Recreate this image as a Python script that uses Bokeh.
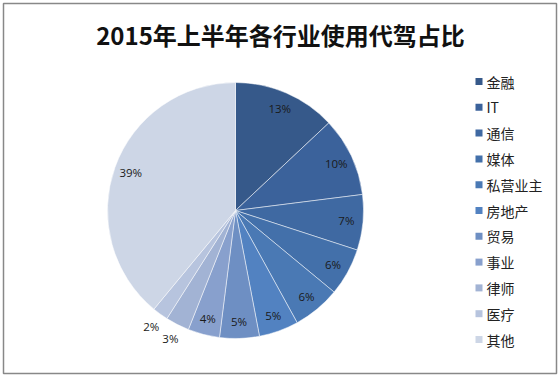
import math
from bokeh.plotting import figure
from bokeh.models import Range1d, ColumnDataSource
from bokeh.core.properties import value
from bokeh.embed import file_html
from bokeh.resources import INLINE

title_text = "2015年上半年各行业使用代驾占比"
categories = ["金融", "IT", "通信", "媒体", "私营业主", "房地产", "贸易", "事业", "律师", "医疗", "其他"]
shares = [13, 10, 7, 6, 6, 5, 5, 4, 3, 2, 39]
colors = ["#36598a", "#3b629b", "#3f69a2", "#4370aa", "#4a79b4", "#5282c1",
          "#6e8fc3", "#88a0cd", "#a2b3d4", "#b7c4de", "#cdd6e6"]

W, H = 559, 377
p = figure(width=W, height=H, output_backend="svg", toolbar_location=None,
           x_range=Range1d(0, W), y_range=Range1d(0, H), min_border=0)
p.axis.visible = False
p.grid.visible = False
p.outline_line_color = None
p.background_fill_color = "white"
p.border_fill_color = "white"

def Y(y):
    return H - y

# frame
p.quad(left=[3], right=[556], bottom=[Y(373)], top=[Y(3)], fill_color=None,
       line_color="#888888", line_width=1.5)

cx, cy, R = 235, 210, 128
total = sum(shares)
starts, ends, lx, ly, labels = [], [], [], [], []
cum = 0.0
for s in shares:
    a0 = cum / total
    a1 = (cum + s) / total
    starts.append(math.pi / 2 - a0 * 2 * math.pi)
    ends.append(math.pi / 2 - a1 * 2 * math.pi)
    mid = (a0 + a1) / 2 * 2 * math.pi
    rr = R * (0.87 if s >= 4 else 1.12)
    lx.append(cx + rr * math.sin(mid))
    ly.append(Y(cy - rr * math.cos(mid)))
    labels.append(f"{s}%")
    cum += s

src = ColumnDataSource(dict(start=starts, end=ends, color=colors))
p.wedge(x=cx, y=Y(cy), radius=R, start_angle="start", end_angle="end",
        direction="clock", fill_color="color", line_color="white",
        line_width=0.7, line_alpha=0.7, source=src)

p.text(x=lx, y=ly, text=labels, text_align="center", text_baseline="middle",
       text_font=value("Open Sans"), text_font_size="11.5px", text_color="#1a1a1a")

# title
p.text(x=[280], y=[Y(34)], text=[title_text], text_align="center", text_baseline="middle",
       text_font=value("Noto Sans CJK SC"), text_font_style="bold",
       text_font_size="24px", text_color="#111111")

# legend
leg_y = [Y(81 + i * 25.8) for i in range(len(categories))]
p.rect(x=[478.5] * len(categories), y=leg_y, width=7, height=7, fill_color=colors,
       line_color=None)
p.text(x=[486] * len(categories), y=leg_y, text=categories, text_align="left",
       text_baseline="middle", text_font=value("Noto Sans CJK SC"),
       text_font_size="14px", text_color="#222222")

open("out.html", "w").write(file_html(p, INLINE))
